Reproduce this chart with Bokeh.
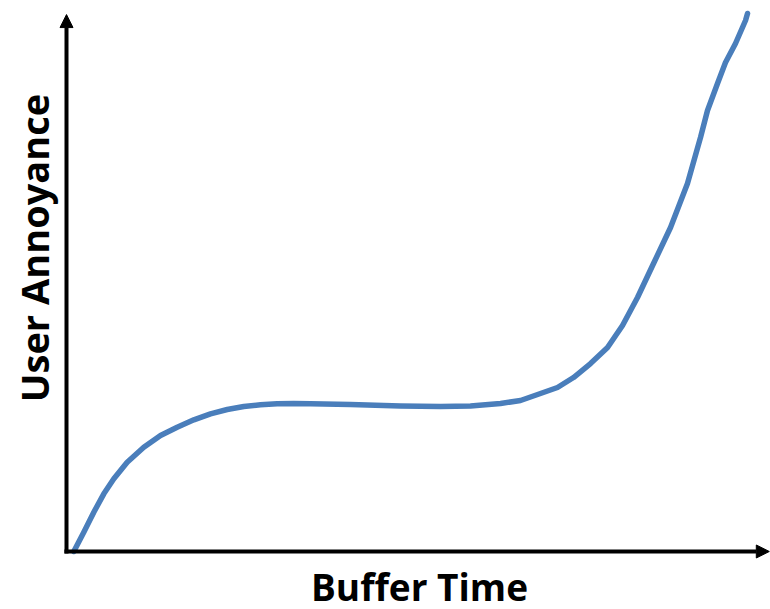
from bokeh.plotting import figure
from bokeh.models import Range1d, Arrow, NormalHead, Label
from bokeh.embed import file_html
from bokeh.resources import INLINE

# Buffer time (arbitrary units, 0..100) and user annoyance (arbitrary units, 0..100)
buffer_time = [1.04, 2.47, 3.90, 5.33, 6.76, 8.67, 11.04, 13.43, 15.81, 18.19,
               20.57, 22.96, 25.33, 27.71, 30.10, 32.47, 34.86, 40.57, 47.71, 53.43,
               57.71, 62.0, 64.86, 67.71, 70.14, 72.43, 74.86, 77.29, 79.43, 81.57,
               83.86, 86.29, 88.71, 90.57, 91.57, 93.0, 94.14, 95.57, 97.0, 97.29]
annoyance = [0.0, 3.59, 7.30, 10.72, 13.51, 16.60, 19.39, 21.56, 23.10, 24.48,
             25.59, 26.39, 26.95, 27.27, 27.45, 27.51, 27.45, 27.32, 27.04, 26.95,
             27.04, 27.51, 28.07, 29.37, 30.48, 32.34, 34.94, 37.92, 42.01, 47.21,
             53.53, 60.22, 68.40, 76.95, 81.97, 86.99, 90.89, 94.42, 98.70, 100.0]

x_label = "Buffer Time"
y_label = "User Annoyance"

p = figure(width=770, height=609,
           x_range=Range1d(-9.4286, 100.571), y_range=Range1d(-10.781, 102.416),
           toolbar_location=None, output_backend="svg",
           x_axis_location=None, y_axis_location=None, min_border=0)
p.grid.visible = False
p.outline_line_color = None
p.background_fill_color = "white"
p.border_fill_color = "white"

# axes with arrowheads
p.add_layout(Arrow(end=NormalHead(size=13, fill_color="black", line_color="black", line_width=1),
                   x_start=0, y_start=-0.35, x_end=0, y_end=99.8,
                   line_width=4, line_color="black"))
p.add_layout(Arrow(end=NormalHead(size=13, fill_color="black", line_color="black", line_width=1),
                   x_start=-0.3, y_start=0, x_end=100.4, y_end=0,
                   line_width=4, line_color="black"))

p.line(buffer_time, annoyance, line_width=5.5, line_color="#4A7EBB",
       line_cap="round", line_join="round")

p.add_layout(Label(x=50.43, y=-6.45, text=x_label, text_align="center",
                   text_baseline="middle", text_font="Open Sans",
                   text_font_style="bold", text_font_size="37px", text_color="black"))
p.add_layout(Label(x=-4.6, y=56.41, text=y_label, angle=1.5708, text_align="center",
                   text_baseline="middle", text_font="Open Sans",
                   text_font_style="bold", text_font_size="38px", text_color="black"))

open("out.html", "w").write(file_html(p, INLINE))
